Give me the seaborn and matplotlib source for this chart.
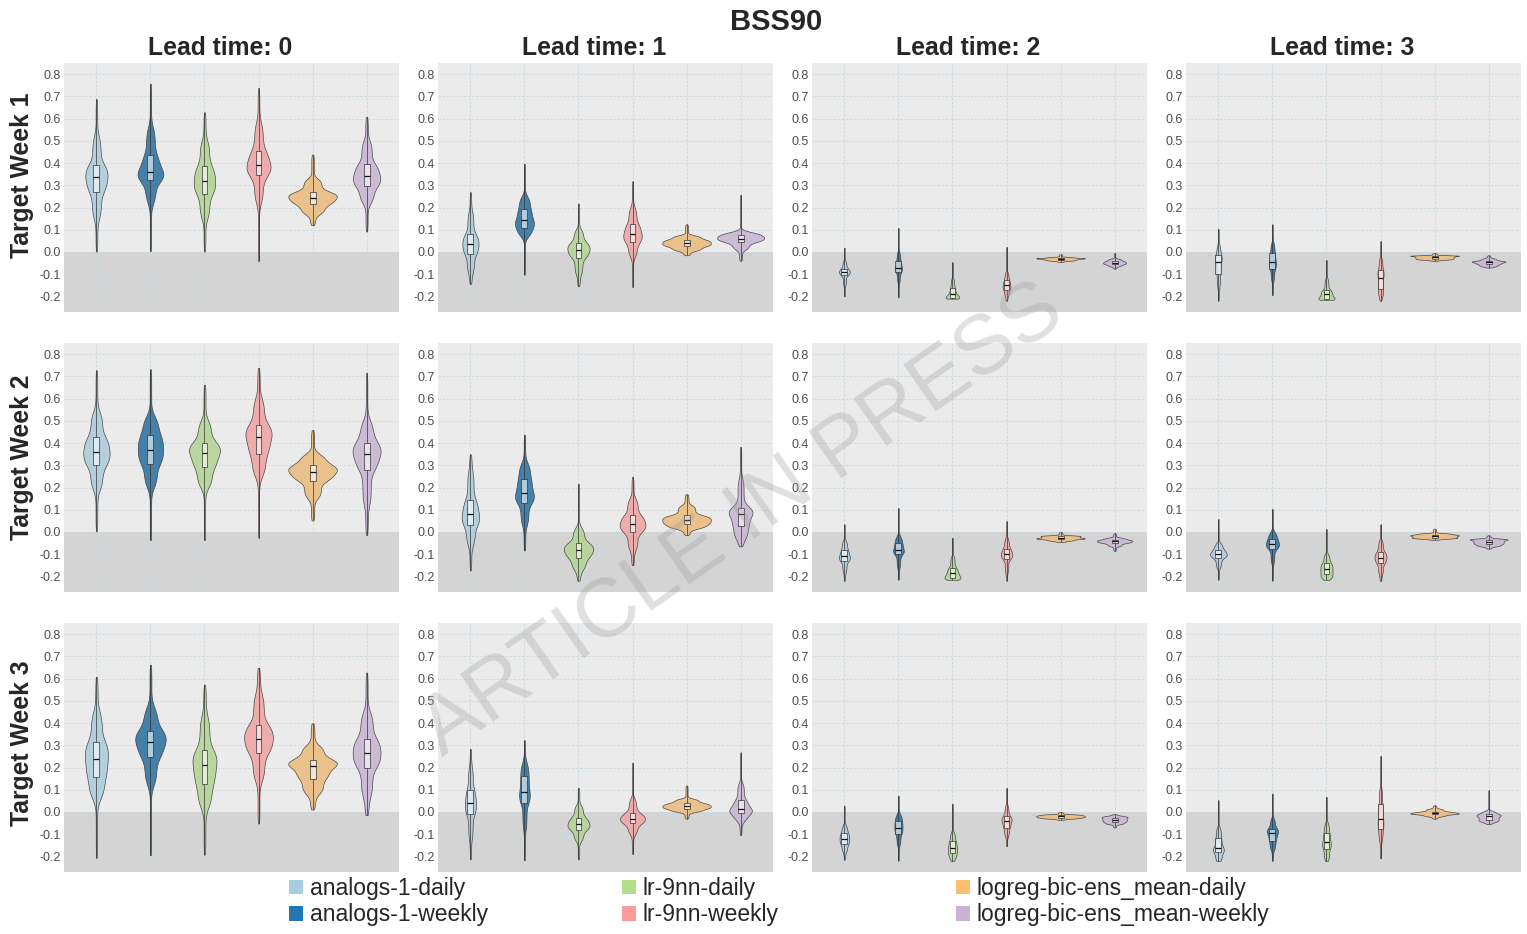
import numpy as np
import pandas as pd
import matplotlib
matplotlib.use("Agg")
import matplotlib.pyplot as plt
import seaborn as sns
from matplotlib.patches import Patch
from matplotlib.ticker import FixedLocator, NullLocator

# ---------------- data ----------------
MODELS = ["analogs-1-daily", "analogs-1-weekly", "lr-9nn-daily", "lr-9nn-weekly",
          "logreg-bic-ens_mean-daily", "logreg-bic-ens_mean-weekly"]
COLORS = ["#a6cee3", "#1f78b4", "#b2df8a", "#fb9a99", "#fdbf6f", "#cab2d6"]
LEAD_TIMES = [0, 1, 2, 3]
TARGET_WEEKS = [1, 2, 3]
Y_TICKS = [-0.2, -0.1, 0.0, 0.1, 0.2, 0.3, 0.4, 0.5, 0.6, 0.7, 0.8]
TITLE = "BSS90"

# read quantiles of each violin: [min, p05, q25, median, q75, p95, max]
QUANTILE_PROBS = [0.0, 0.05, 0.25, 0.5, 0.75, 0.95, 1.0]

week1_lead0 = [[0.00, 0.15, 0.27, 0.335, 0.39, 0.52, 0.69],
               [0.00, 0.22, 0.325, 0.36, 0.435, 0.56, 0.76],
               [0.00, 0.15, 0.26, 0.32, 0.385, 0.50, 0.63],
               [-0.045, 0.22, 0.345, 0.39, 0.455, 0.58, 0.74],
               [0.12, 0.17, 0.215, 0.245, 0.27, 0.33, 0.44],
               [0.09, 0.22, 0.295, 0.34, 0.395, 0.50, 0.61]]
week1_lead1 = [[-0.145, -0.09, -0.01, 0.035, 0.08, 0.18, 0.27],
               [-0.105, 0.07, 0.11, 0.145, 0.195, 0.25, 0.40],
               [-0.155, -0.10, -0.025, 0.01, 0.04, 0.10, 0.22],
               [-0.16, -0.02, 0.045, 0.08, 0.125, 0.20, 0.32],
               [-0.015, 0.005, 0.025, 0.04, 0.055, 0.075, 0.125],
               [-0.04, 0.01, 0.045, 0.06, 0.075, 0.09, 0.26]]
week1_lead2 = [[-0.20, -0.15, -0.105, -0.09, -0.075, -0.04, 0.02],
               [-0.205, -0.14, -0.09, -0.07, -0.04, 0.00, 0.11],
               [-0.21, -0.209, -0.205, -0.19, -0.16, -0.12, -0.045],
               [-0.22, -0.20, -0.17, -0.15, -0.125, -0.09, 0.025],
               [-0.045, -0.04, -0.035, -0.03, -0.027, -0.022, -0.01],
               [-0.075, -0.065, -0.055, -0.048, -0.04, -0.03, -0.005]]
week1_lead3 = [[-0.22, -0.16, -0.10, -0.045, -0.015, 0.03, 0.105],
               [-0.195, -0.13, -0.075, -0.045, -0.005, 0.04, 0.125],
               [-0.215, -0.214, -0.21, -0.19, -0.17, -0.12, -0.035],
               [-0.22, -0.20, -0.165, -0.115, -0.08, -0.03, 0.05],
               [-0.04, -0.035, -0.03, -0.024, -0.018, -0.015, -0.005],
               [-0.07, -0.065, -0.055, -0.046, -0.04, -0.028, -0.015]]

week2_lead0 = [[0.00, 0.19, 0.30, 0.36, 0.425, 0.54, 0.73],
               [-0.04, 0.20, 0.305, 0.37, 0.435, 0.52, 0.735],
               [-0.04, 0.20, 0.29, 0.355, 0.40, 0.50, 0.665],
               [-0.03, 0.25, 0.35, 0.425, 0.48, 0.60, 0.74],
               [0.05, 0.15, 0.23, 0.27, 0.30, 0.35, 0.46],
               [-0.015, 0.12, 0.28, 0.35, 0.40, 0.50, 0.72]]
week2_lead1 = [[-0.175, -0.06, 0.03, 0.08, 0.145, 0.27, 0.35],
               [-0.085, 0.03, 0.13, 0.175, 0.24, 0.31, 0.44],
               [-0.22, -0.17, -0.115, -0.08, -0.05, 0.02, 0.22],
               [-0.15, -0.08, 0.00, 0.035, 0.075, 0.15, 0.25],
               [-0.015, 0.015, 0.035, 0.055, 0.075, 0.12, 0.17],
               [-0.065, -0.03, 0.025, 0.08, 0.11, 0.24, 0.385]]
week2_lead2 = [[-0.22, -0.18, -0.13, -0.11, -0.08, -0.04, 0.035],
               [-0.215, -0.16, -0.10, -0.08, -0.05, -0.02, 0.11],
               [-0.215, -0.214, -0.205, -0.185, -0.16, -0.11, -0.025],
               [-0.22, -0.18, -0.12, -0.10, -0.075, -0.03, 0.05],
               [-0.045, -0.04, -0.032, -0.027, -0.02, -0.015, 0.0],
               [-0.085, -0.065, -0.05, -0.042, -0.035, -0.025, -0.005]]
week2_lead3 = [[-0.215, -0.16, -0.115, -0.10, -0.08, -0.05, 0.06],
               [-0.22, -0.14, -0.075, -0.055, -0.03, 0.00, 0.105],
               [-0.215, -0.21, -0.19, -0.165, -0.14, -0.10, 0.015],
               [-0.22, -0.19, -0.14, -0.115, -0.09, -0.04, 0.035],
               [-0.035, -0.03, -0.025, -0.018, -0.012, -0.005, 0.015],
               [-0.075, -0.065, -0.055, -0.045, -0.035, -0.03, -0.015]]

week3_lead0 = [[-0.21, 0.06, 0.155, 0.24, 0.315, 0.45, 0.61],
               [-0.20, 0.12, 0.245, 0.315, 0.365, 0.47, 0.665],
               [-0.195, 0.02, 0.125, 0.21, 0.28, 0.43, 0.575],
               [-0.055, 0.14, 0.265, 0.33, 0.39, 0.53, 0.65],
               [0.01, 0.08, 0.15, 0.205, 0.235, 0.30, 0.40],
               [-0.015, 0.07, 0.20, 0.265, 0.33, 0.45, 0.63]]
week3_lead1 = [[-0.215, -0.12, -0.01, 0.04, 0.10, 0.20, 0.285],
               [-0.22, -0.08, 0.04, 0.09, 0.16, 0.22, 0.325],
               [-0.215, -0.13, -0.08, -0.055, -0.025, 0.03, 0.11],
               [-0.19, -0.10, -0.05, -0.03, -0.005, 0.06, 0.225],
               [-0.03, 0.00, 0.015, 0.027, 0.04, 0.06, 0.12],
               [-0.105, -0.04, -0.005, 0.015, 0.055, 0.13, 0.27]]
week3_lead2 = [[-0.215, -0.18, -0.145, -0.12, -0.095, -0.06, 0.03],
               [-0.22, -0.15, -0.10, -0.07, -0.04, -0.01, 0.075],
               [-0.22, -0.21, -0.185, -0.16, -0.13, -0.09, 0.04],
               [-0.155, -0.11, -0.07, -0.04, -0.02, 0.03, 0.11],
               [-0.035, -0.03, -0.025, -0.02, -0.015, -0.01, 0.0],
               [-0.07, -0.055, -0.045, -0.035, -0.025, -0.018, -0.01]]
week3_lead3 = [[-0.22, -0.215, -0.18, -0.16, -0.115, -0.07, 0.055],
               [-0.22, -0.17, -0.13, -0.095, -0.075, -0.03, 0.085],
               [-0.22, -0.21, -0.165, -0.135, -0.095, -0.05, 0.07],
               [-0.21, -0.13, -0.075, -0.03, 0.035, 0.11, 0.255],
               [-0.03, -0.02, -0.01, -0.005, 0.002, 0.015, 0.03],
               [-0.055, -0.045, -0.035, -0.02, -0.01, 0.005, 0.10]]

PANELS = {
    (1, 0): week1_lead0, (1, 1): week1_lead1, (1, 2): week1_lead2, (1, 3): week1_lead3,
    (2, 0): week2_lead0, (2, 1): week2_lead1, (2, 2): week2_lead2, (2, 3): week2_lead3,
    (3, 0): week3_lead0, (3, 1): week3_lead1, (3, 2): week3_lead2, (3, 3): week3_lead3,
}

N_SAMPLES = 600
_probs = (np.arange(N_SAMPLES) + 0.5) / N_SAMPLES


def panel_frame(quantiles):
    rows = []
    for model, q in zip(MODELS, quantiles):
        vals = np.interp(_probs, QUANTILE_PROBS, q)
        rows.append(pd.DataFrame({"model": model, "value": vals}))
    return pd.concat(rows, ignore_index=True)


# ---------------- figure ----------------
sns.set_theme(style="white")
plt.rcParams["font.family"] = ["Liberation Sans", "DejaVu Sans"]
plt.rcParams["axes.unicode_minus"] = False

W, H = 1527, 934
fig = plt.figure(figsize=(W / 100, H / 100), dpi=100)
fig.patch.set_facecolor("white")

col_left = [64, 438, 812, 1186]
row_top = [63, 343, 623]
row_label_y = [175, 457, 743]
pw, ph = 335, 249
YLIM = (-0.27, 0.85)

for ri, week in enumerate(TARGET_WEEKS):
    for ci, lead in enumerate(LEAD_TIMES):
        ax = fig.add_axes([col_left[ci] / W, 1 - (row_top[ri] + ph) / H, pw / W, ph / H])
        ax.set_facecolor("#ebebeb")
        ax.axhspan(YLIM[0], 0.0, color="#d4d4d4", zorder=0.1, lw=0)
        df = panel_frame(PANELS[(week, lead)])
        sns.violinplot(data=df, x="model", y="value", hue="model", order=MODELS,
                       hue_order=MODELS, palette=COLORS, density_norm="area",
                       common_norm=True, cut=0, inner=None, width=0.9, linewidth=0.5,
                       linecolor="#3a3a3a", legend=False, ax=ax, alpha=0.9,
                       bw_adjust=0.85)
        n_before = len(ax.patches)
        sns.boxplot(data=df, x="model", y="value", order=MODELS, color="white",
                    width=0.11, whis=(0, 100), showfliers=False, showcaps=False,
                    linewidth=0.5, linecolor="#333333", ax=ax,
                    medianprops={"color": "#111111", "linewidth": 0.9})
        for p in ax.patches[n_before:]:
            p.set_facecolor((1, 1, 1, 0.6))
            p.set_zorder(3)
        for ln in ax.lines:
            ln.set_zorder(3.5)
        ax.set_xlim(-0.6, 5.6)
        ax.set_ylim(*YLIM)
        ax.yaxis.set_major_locator(FixedLocator(Y_TICKS))
        ax.yaxis.set_minor_locator(NullLocator())
        ax.set_yticklabels([f"{t:.1f}" for t in Y_TICKS])
        ax.set_axisbelow(True)
        ax.grid(True, which="major", axis="both", linestyle=(0, (3, 2)),
                color="#c9d8df", linewidth=0.6)
        ax.tick_params(axis="y", which="both", length=0, pad=2, labelsize=9,
                       labelcolor="#4d4d4d")
        ax.tick_params(axis="x", length=0, labelbottom=False)
        ax.set_xlabel("")
        ax.set_ylabel("")
        for s in ax.spines.values():
            s.set_visible(False)

# column titles
for ci, lead in enumerate(LEAD_TIMES):
    cx = (col_left[ci] - 23 + col_left[ci] + pw) / 2
    fig.text(cx / W, 1 - 48 / H, f"Lead time: {lead}", ha="center", va="center",
             fontsize=17.8, fontweight="bold")

# row labels
for ri, week in enumerate(TARGET_WEEKS):
    fig.text(22 / W, 1 - row_label_y[ri] / H, f"Target Week {week}", ha="center",
             va="center", rotation=90, fontsize=17.8, fontweight="bold")

fig.text(776 / W, 1 - 22 / H, TITLE, ha="center", va="center", fontsize=21,
         fontweight="bold")

# legend: three columns of two entries
handles = [Patch(facecolor=c, edgecolor="none") for c in COLORS]
legend_x = [289, 622, 956]
for k in range(3):
    fig.legend(handles[2 * k:2 * k + 2], MODELS[2 * k:2 * k + 2],
               loc="upper left", bbox_to_anchor=(legend_x[k] / W, 1 - 877 / H),
               frameon=False, fontsize=16.5, borderpad=0, borderaxespad=0,
               handlelength=0.62, handleheight=0.62, handletextpad=0.28,
               labelspacing=0.15)

# watermark
fig.text(742 / W, 1 - 520 / H, "ARTICLE IN PRESS", ha="center", va="center",
         rotation=35, fontsize=60, color="#9a9a9a", alpha=0.3, zorder=10)

fig.savefig("out.png", dpi=100)
